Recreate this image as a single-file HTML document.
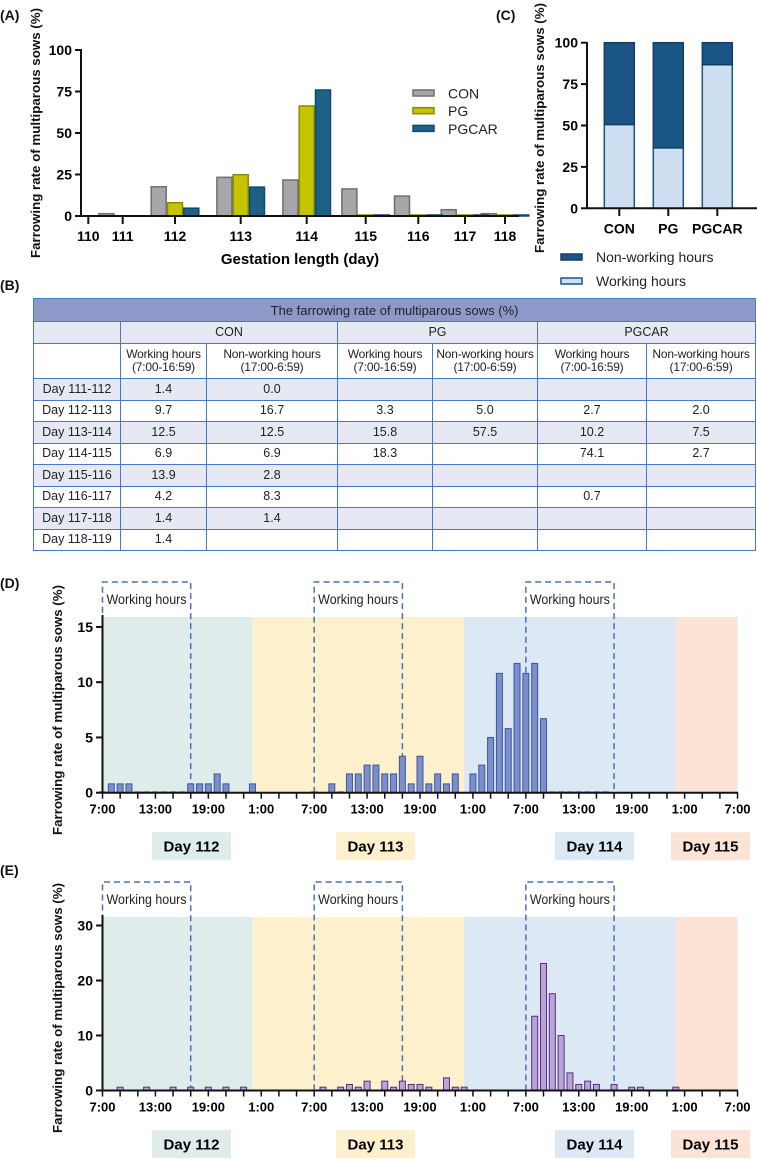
<!DOCTYPE html>
<html><head><meta charset="utf-8"><style>
body{margin:0;background:#fff;width:757px;height:1160px;overflow:hidden;position:relative;font-family:"Liberation Sans",Arial,sans-serif}
svg{position:absolute;left:0;top:0}
table{position:absolute;left:33px;top:298px;width:722px;border-collapse:collapse;font-size:12.5px;color:#222;table-layout:fixed}
td{border:1.5px solid #4a78c8;text-align:center;padding:0;line-height:13px;white-space:nowrap;overflow:hidden}
tr.hd td{background:#8e99c9;height:22px;font-size:13px}
tr.gp td{height:21px}
tr.sb td{height:34px;font-size:12px;letter-spacing:-0.2px}
tr.dr td{height:20.5px}
.l td{background:#e6e9f4}
</style></head><body>
<svg id="fig" width="757" height="1160"></svg>
<table>
<colgroup><col style="width:87px"><col style="width:86px"><col style="width:131px"><col style="width:95px"><col style="width:105px"><col style="width:109px"><col style="width:109px"></colgroup>
<tr class="hd"><td colspan="7">The farrowing rate of multiparous sows (%)</td></tr>
<tr class="gp l"><td></td><td colspan="2">CON</td><td colspan="2">PG</td><td colspan="2">PGCAR</td></tr>
<tr class="sb"><td></td><td>Working hours<br>(7:00-16:59)</td><td>Non-working hours<br>(17:00-6:59)</td><td>Working hours<br>(7:00-16:59)</td><td>Non-working hours<br>(17:00-6:59)</td><td>Working hours<br>(7:00-16:59)</td><td>Non-working hours<br>(17:00-6:59)</td></tr>
<tr class="dr l"><td>Day 111-112</td><td>1.4</td><td>0.0</td><td></td><td></td><td></td><td></td></tr>
<tr class="dr"><td>Day 112-113</td><td>9.7</td><td>16.7</td><td>3.3</td><td>5.0</td><td>2.7</td><td>2.0</td></tr>
<tr class="dr l"><td>Day 113-114</td><td>12.5</td><td>12.5</td><td>15.8</td><td>57.5</td><td>10.2</td><td>7.5</td></tr>
<tr class="dr"><td>Day 114-115</td><td>6.9</td><td>6.9</td><td>18.3</td><td></td><td>74.1</td><td>2.7</td></tr>
<tr class="dr l"><td>Day 115-116</td><td>13.9</td><td>2.8</td><td></td><td></td><td></td><td></td></tr>
<tr class="dr"><td>Day 116-117</td><td>4.2</td><td>8.3</td><td></td><td></td><td>0.7</td><td></td></tr>
<tr class="dr l"><td>Day 117-118</td><td>1.4</td><td>1.4</td><td></td><td></td><td></td><td></td></tr>
<tr class="dr"><td>Day 118-119</td><td>1.4</td><td></td><td></td><td></td><td></td><td></td></tr>
</table>
<script>
// ---- Panel A data ----
const aCategories=[110,111,112,113,114,115,116,117,118];
const aCON=[0,1.4,17.6,23.3,21.7,16.3,12,3.8,1.4];
const aPG=[0,0,8,24.9,66.3,0,0,0,0];
const aPGCAR=[0,0,4.7,17.4,75.9,0,0,0,0];
const aTicks=[0,25,50,75,100];
// ---- Panel C data ----
const cGroups=["CON","PG","PGCAR"];
const cWorking=[50.6,36.5,86.7];
const cNonWorking=[49.4,63.5,13.3];
const cTicks=[0,25,50,75,100];
// ---- Panel D / E data (hourly, starting 7:00 Day 112) ----
const dValues=[0,0.8,0.8,0.8,0,0,0,0,0,0,0.8,0.8,0.8,1.7,0.8,null,null,0.8,null,null,null,null,null,null,0,null,0.8,0,1.7,1.7,2.5,2.5,1.7,1.7,3.3,0.8,3.3,0.8,1.7,0.8,1.7,null,1.7,2.5,5.0,10.8,5.8,11.7,10.8,11.7,6.7,0,0,0,0,0,0,0,null,null,null,null,null,null,null,null,null,null,null,null,null,null];
const eValues=[null,null,0.6,null,null,0.6,null,null,0.6,null,0.6,null,0.6,null,0.6,null,0.6,null,null,null,null,null,null,null,null,0.6,null,0.6,1.1,0.6,1.7,null,1.7,0.6,1.7,1.1,1.1,0.6,null,2.3,0.6,0.6,null,null,null,null,null,null,null,13.5,23.1,17.6,10,3.2,1.1,1.7,1.1,null,1.1,null,0.6,0.6,null,null,null,0.6,null,null,null,null,null,null];
const dTicks=[0,5,10,15];
const eTicks=[0,10,20,30];
const timeLabels=["7:00","13:00","19:00","1:00","7:00","13:00","19:00","1:00","7:00","13:00","19:00","1:00","7:00"];
const dayLabels=["Day 112","Day 113","Day 114","Day 115"];

const NS="http://www.w3.org/2000/svg";
const svg=document.getElementById('fig');
function el(tag,attrs,parent,text){const e=document.createElementNS(NS,tag);for(const k in attrs)e.setAttribute(k,attrs[k]);if(text!==undefined)e.textContent=text;(parent||svg).appendChild(e);return e;}
const F='"Liberation Sans",Arial,sans-serif';

[["(A)",0,20],["(C)",496,20],["(B)",0,290],["(D)",0,588],["(E)",0,875]].forEach(p=>{
 const t=el('text',{x:p[1],y:p[2],'font-family':F,'font-size':14,'font-weight':'bold',fill:'#111'},svg,p[0]);
 
 
});
function ytitle(x,cy,name){const t=el('text',{x:0,y:0,transform:`translate(${x},${cy}) rotate(-90)`,'text-anchor':'middle','font-family':F,'font-size':13,'font-weight':'bold',fill:'#111',textLength:250,lengthAdjust:'spacingAndGlyphs'},svg,'Farrowing rate of multiparous sows (%)');
 
 }

// ===== Panel A =====
function xA(i){const pos=[88.3,122.7,175,240.7,306.7,365.7,418.3,465,505];return pos[i];}
function yA(v){return 216-v*1.66;}
ytitle(40,133,'a-y-axis-title');
const gA=el('g',{});


const seriesA=[[aCON,'#a7a7ab','#6f6f72',-16.3,'con'],[aPG,'#c4c400','#8b8b00',0,'pg'],[aPGCAR,'#1d6189','#0d4a6e',16.3,'pgcar']];
seriesA.forEach(s=>{s[0].forEach((v,i)=>{
 if(i===0)return;
 if(v<=0&&s[4]!=='con'&&i<5)return;
 const x=xA(i)+s[3]-7.5;const y=yA(v);
 const r=el('rect',{x:x,y:Math.min(y,215),width:15,height:Math.max(216-y,1),fill:s[1],stroke:s[2],'stroke-width':1.5},gA);
 
 
});});
el('line',{x1:81,y1:49,x2:81,y2:217,stroke:'#111','stroke-width':2},gA);
el('line',{x1:80,y1:216,x2:519,y2:216,stroke:'#111','stroke-width':2},gA);
aTicks.forEach(v=>{el('line',{x1:75,x2:81,y1:yA(v),y2:yA(v),stroke:'#111','stroke-width':2},gA);
 const t=el('text',{x:72,y:yA(v)+5,'text-anchor':'end','font-family':F,'font-size':14,'font-weight':'bold'},gA,v);
 
 });
aCategories.forEach((c,i)=>{el('line',{x1:xA(i),x2:xA(i),y1:216,y2:224,stroke:'#111','stroke-width':2},gA);
 const t=el('text',{x:xA(i),y:241,'text-anchor':'middle','font-family':F,'font-size':14,'font-weight':'bold'},gA,c);
 
 });
const ax=el('text',{x:300,y:264,'text-anchor':'middle','font-family':F,'font-size':15,'font-weight':'bold'},gA,'Gestation length (day)');


[['CON','#a7a7ab','#6f6f72'],['PG','#c4c400','#8b8b00'],['PGCAR','#1d6189','#0d4a6e']].forEach((l,i)=>{
 const g=el('g',{},gA);
 
 
 el('rect',{x:413,y:90+i*17.7,width:21,height:6,fill:l[1],stroke:l[2],'stroke-width':1.5},g);
 el('text',{x:448,y:98.5+i*17.7,'font-family':F,'font-size':14,fill:'#222'},g,l[0]);
});

// ===== Panel C =====
function xC(i){return 619.3+i*49;}
function yC(v){return 208.3-v*1.656;}
ytitle(544,128,'c-y-axis-title');
const gC=el('g',{});


cGroups.forEach((g,i)=>{
 const x=xC(i)-15;
 const w=el('rect',{x:x,y:yC(cWorking[i]),width:30,height:cWorking[i]*1.656,fill:'#cfdff2',stroke:'#1b5585','stroke-width':1.5},gC);
 
 
 const n=el('rect',{x:x,y:yC(cWorking[i]+cNonWorking[i]),width:30,height:cNonWorking[i]*1.656,fill:'#1b5585',stroke:'#123f68','stroke-width':1.5},gC);
 
 
 el('line',{x1:xC(i),x2:xC(i),y1:208,y2:216,stroke:'#111','stroke-width':2},gC);
 const t=el('text',{x:xC(i),y:233.5,'text-anchor':'middle','font-family':F,'font-size':14,'font-weight':'bold'},gC,g);
 
 
});
el('line',{x1:587,y1:42,x2:587,y2:209,stroke:'#111','stroke-width':2},gC);
el('line',{x1:586,y1:208.3,x2:757,y2:208.3,stroke:'#111','stroke-width':2},gC);
cTicks.forEach(v=>{el('line',{x1:581,x2:587,y1:yC(v),y2:yC(v),stroke:'#111','stroke-width':2},gC);
 const t=el('text',{x:578,y:yC(v)+5,'text-anchor':'end','font-family':F,'font-size':14,'font-weight':'bold'},gC,v);
 
 });
[['Non-working hours','#1b5585','#123f68',257],['Working hours','#cfdff2','#1b5585',281]].forEach(l=>{
 const g=el('g',{},gC);
 
 
 el('rect',{x:561,y:l[3]-3,width:21,height:6,fill:l[1],stroke:l[2],'stroke-width':1.5},g);
 el('text',{x:596,y:l[3]+5,'font-family':F,'font-size':14,fill:'#222'},g,l[0]);
});

// ===== Panels D & E =====
function xT(h){return 102.5+h*8.82;}
function timeChart(vals,ticks,base,ppu,bgTop,boxTop,fill,stroke,key){
 const yS=v=>base-v*ppu;
 const g=el('g',{});
 
 
 const bands=[[0,17,'#deedec'],[17,41,'#fdf0cc'],[41,65,'#dde8f5'],[65,72,'#fbe3d6']];
 bands.forEach((b,i)=>{const r=el('rect',{x:xT(b[0]),y:bgTop,width:xT(b[1])-xT(b[0]),height:base-bgTop,fill:b[2]},g);
  
  });
 [0,24,48].forEach((h,i)=>{
  const bx=el('path',{d:`M${xT(h)},${base} V${boxTop} H${xT(h+10)} V${base}`,fill:'none',stroke:'#4a70b6','stroke-width':1.5,'stroke-dasharray':'6,4'},g);
  
  
  const t=el('text',{x:xT(h)+4,y:boxTop+22,'font-family':F,'font-size':14,fill:'#222',textLength:80,lengthAdjust:'spacingAndGlyphs'},g,'Working hours');
  
  
 });
 vals.forEach((v,h)=>{if(v===null)return;
  const y=yS(v);
  const r=el('rect',{x:xT(h)-3,y:Math.min(y,base-0.8),width:6,height:Math.max(base-y,0.8),fill:fill,stroke:stroke,'stroke-width':1},g);
  
  
 });
 el('line',{x1:102.5,y1:bgTop-2,x2:102.5,y2:base+1,stroke:'#111','stroke-width':2},g);
 el('line',{x1:101.5,y1:base,x2:738,y2:base,stroke:'#111','stroke-width':2},g);
 ticks.forEach(v=>{el('line',{x1:96,x2:102.5,y1:yS(v),y2:yS(v),stroke:'#111','stroke-width':2},g);
  const t=el('text',{x:93,y:yS(v)+5,'text-anchor':'end','font-family':F,'font-size':14,'font-weight':'bold'},g,v);
  
  });
 for(let h=0;h<=72;h+=2)el('line',{x1:xT(h),x2:xT(h),y1:base,y2:base+6,stroke:'#111','stroke-width':1.5},g);
 timeLabels.forEach((l,i)=>{const t=el('text',{x:xT(i*6),y:base+21,'text-anchor':'middle','font-family':F,'font-size':13,'font-weight':'bold'},g,l);
  
  });
 const dayBoxes=[[152,'#deedec'],[336,'#fdf0cc'],[555,'#dde8f5'],[671,'#fbe3d6']];
 dayLabels.forEach((d,i)=>{const gg=el('g',{},g);
  
  
  el('rect',{x:dayBoxes[i][0],y:base+39.5,width:79,height:28,fill:dayBoxes[i][1]},gg);
  el('text',{x:dayBoxes[i][0]+39.5,y:base+59,'text-anchor':'middle','font-family':F,'font-size':15,'font-weight':'bold'},gg,d);});
}
timeChart(dValues,dTicks,792.7,11.05,617,582,'#7b8fca','#3c56a4','d');
ytitle(62,710,'d-y-axis-title');
timeChart(eValues,eTicks,1090.5,5.5,917,882,'#b8a5d6','#5b2c86','e');
ytitle(62,1008,'e-y-axis-title');
</script>
</body></html>
